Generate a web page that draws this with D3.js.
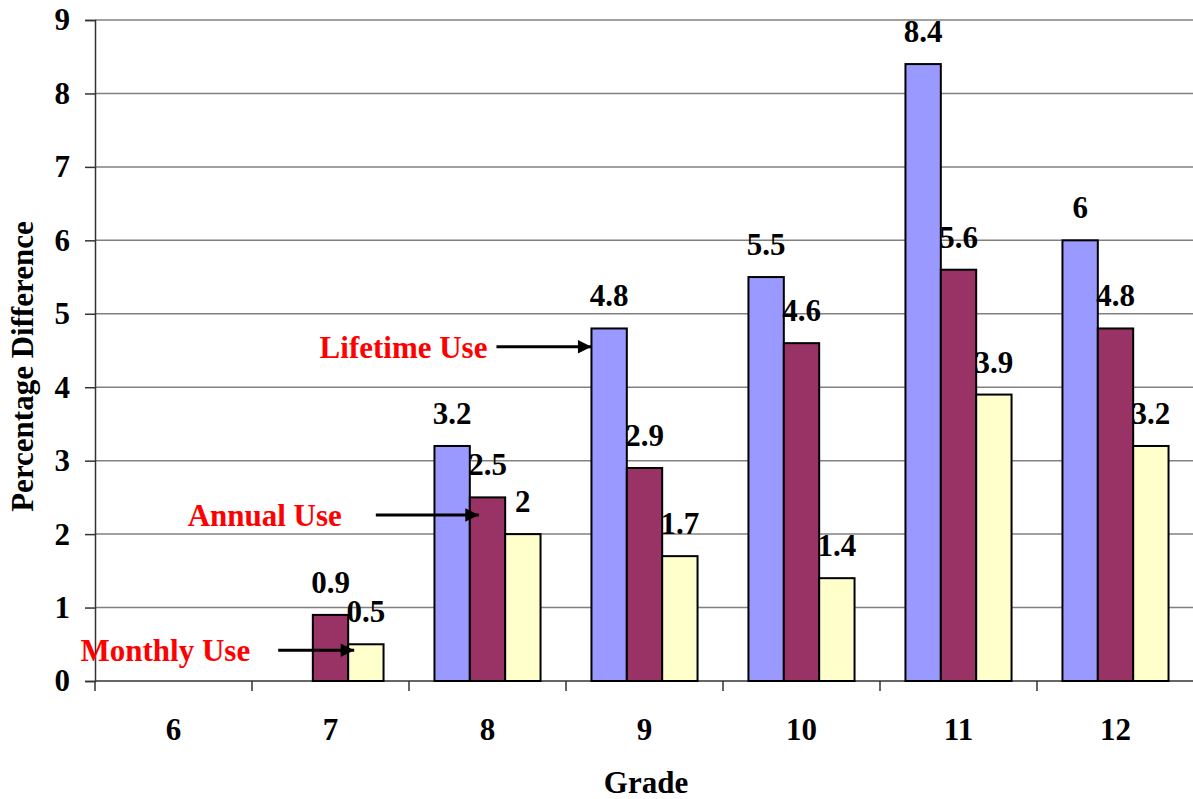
<!DOCTYPE html>
<html>
<head>
<meta charset="utf-8">
<script src="https://cdn.jsdelivr.net/npm/d3@7"></script>
<style>
  body { margin: 0; background: #fff; }
  text { font-family: "Liberation Serif", "Times New Roman", serif; font-weight: bold; }
</style>
</head>
<body>
<div id="chart"></div>
<script>
// data
const grades = ['6', '7', '8', '9', '10', '11', '12'];
const series = ['Lifetime Use', 'Annual Use', 'Monthly Use'];
const lifetime = [null, null, 3.2, 4.8, 5.5, 8.4, 6];
const annual = [null, 0.9, 2.5, 2.9, 4.6, 5.6, 4.8];
const monthly = [null, 0.5, 2, 1.7, 1.4, 3.9, 3.2];
const yTicks = [0, 1, 2, 3, 4, 5, 6, 7, 8, 9];
const colors = ['#9999ff', '#993366', '#ffffcc'];

// annotations: label, grade the arrow points at, series, value height of arrow
const notes = [
  {label: 'Lifetime Use', grade: '9', series: 'Lifetime Use', at: 4.55, nudge: 0, len: 95, gap: 9},
  {label: 'Annual Use', grade: '8', series: 'Annual Use', at: 2.26, nudge: 9, len: 103, gap: 34},
  {label: 'Monthly Use', grade: '7', series: 'Monthly Use', at: 0.42, nudge: 6, len: 76, gap: 28}
];

const width = 1193, height = 799;
const margin = {top: 20, right: -1, bottom: 118, left: 95};

const svg = d3.select('#chart').append('svg')
    .attr('width', width)
    .attr('height', height);

const x0 = d3.scaleBand()
    .domain(grades)
    .range([margin.left, width - margin.right])
    .padding(0);

const x1 = d3.scaleBand()
    .domain(series)
    .range([0, x0.bandwidth()])
    .paddingInner(0)
    .paddingOuter(0.72);

const y = d3.scaleLinear()
    .domain([0, 9])
    .range([height - margin.bottom, margin.top]);

const fontSize = 31;

// gridlines
svg.append('g')
  .selectAll('line')
  .data(yTicks.slice(1))
  .join('line')
    .attr('x1', margin.left)
    .attr('x2', width - margin.right)
    .attr('y1', d => y(d))
    .attr('y2', d => y(d))
    .attr('stroke', '#808080')
    .attr('stroke-width', 1.5);

// y axis
const yAxis = svg.append('g')
    .attr('transform', `translate(${margin.left},0)`)
    .call(d3.axisLeft(y).tickValues(yTicks).tickSize(10).tickPadding(15).tickFormat(d3.format('d')));
yAxis.select('.domain').attr('stroke', '#333').attr('stroke-width', 1.5);
yAxis.selectAll('.tick line').attr('stroke', '#333').attr('stroke-width', 1.5);
yAxis.selectAll('.tick text')
    .attr('font-size', fontSize)
    .attr('fill', '#000')
    .style('font-family', '"Liberation Serif", "Times New Roman", serif');

// x axis: ticks between categories, labels centered
const xAxisG = svg.append('g');
xAxisG.append('line')
    .attr('x1', margin.left)
    .attr('x2', width - margin.right)
    .attr('y1', y(0))
    .attr('y2', y(0))
    .attr('stroke', '#333')
    .attr('stroke-width', 1.5);
xAxisG.selectAll('.xtick')
  .data(grades.concat(['end']))
  .join('line')
    .attr('class', 'xtick')
    .attr('x1', (d, i) => margin.left + i * x0.step())
    .attr('x2', (d, i) => margin.left + i * x0.step())
    .attr('y1', y(0))
    .attr('y2', y(0) + 10)
    .attr('stroke', '#333')
    .attr('stroke-width', 1.5);
xAxisG.selectAll('.xlabel')
  .data(grades)
  .join('text')
    .attr('class', 'xlabel')
    .attr('x', d => x0(d) + x0.bandwidth() / 2)
    .attr('y', y(0) + 59)
    .attr('text-anchor', 'middle')
    .attr('font-size', fontSize)
    .text(d => d);

// bars
const rows = grades.map((g, i) => ({
  grade: g,
  values: [lifetime[i], annual[i], monthly[i]].map((v, j) => ({series: series[j], value: v, color: colors[j]}))
}));

const groups = svg.append('g')
  .selectAll('g')
  .data(rows)
  .join('g')
    .attr('transform', d => `translate(${x0(d.grade)},0)`);

groups.selectAll('rect')
  .data(d => d.values.filter(v => v.value !== null))
  .join('rect')
    .attr('x', d => x1(d.series))
    .attr('y', d => y(d.value))
    .attr('width', x1.bandwidth())
    .attr('height', d => y(0) - y(d.value))
    .attr('fill', d => d.color)
    .attr('stroke', '#000')
    .attr('stroke-width', 2);

groups.selectAll('text')
  .data(d => d.values.filter(v => v.value !== null))
  .join('text')
    .attr('x', d => x1(d.series) + x1.bandwidth() / 2)
    .attr('y', d => y(d.value) - 22)
    .attr('text-anchor', 'middle')
    .attr('font-size', fontSize)
    .attr('fill', '#000')
    .text(d => d.value);

// annotation arrows
svg.append('defs').append('marker')
    .attr('id', 'arrow')
    .attr('viewBox', '0 0 10 10')
    .attr('refX', 10)
    .attr('refY', 5)
    .attr('markerWidth', 5)
    .attr('markerHeight', 4.5)
    .attr('markerUnits', 'strokeWidth')
    .attr('orient', 'auto')
  .append('path')
    .attr('d', 'M0,0L10,5L0,10Z')
    .attr('fill', '#000');

const ann = svg.append('g');
notes.forEach(n => {
  const xEnd = x0(n.grade) + x1(n.series) + n.nudge;
  const xStart = xEnd - n.len;
  const yy = y(n.at);
  ann.append('line')
      .attr('x1', xStart)
      .attr('x2', xEnd)
      .attr('y1', yy)
      .attr('y2', yy)
      .attr('stroke', '#000')
      .attr('stroke-width', 3)
      .attr('marker-end', 'url(#arrow)');
  ann.append('text')
      .attr('x', xStart - n.gap)
      .attr('y', yy + 11)
      .attr('text-anchor', 'end')
      .attr('font-size', fontSize)
      .attr('fill', '#ff0000')
      .text(n.label);
});

// axis titles
svg.append('text')
    .attr('transform', `translate(33,${(margin.top + y(0)) / 2 + 16}) rotate(-90)`)
    .attr('text-anchor', 'middle')
    .attr('font-size', fontSize)
    .text('Percentage Difference');

svg.append('text')
    .attr('x', (margin.left + width) / 2 + 2)
    .attr('y', 793)
    .attr('text-anchor', 'middle')
    .attr('font-size', fontSize)
    .text('Grade');
</script>
</body>
</html>
